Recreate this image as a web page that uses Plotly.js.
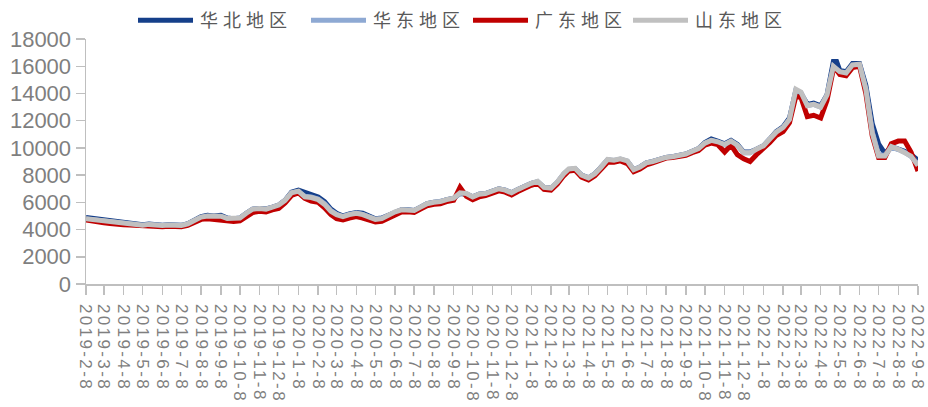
<!DOCTYPE html>
<html>
<head>
<meta charset="utf-8">
<script src="https://cdn.plot.ly/plotly-3.0.1.min.js"></script>
<style>
html,body{margin:0;padding:0;background:#fff;}
#chart{width:928px;height:407px;}
#chart .xtick text{letter-spacing:2.4px;}
#chart .legendtext{letter-spacing:5px;}
</style>
</head>
<body>
<div id="chart"></div>
<script>
// Sample dates (roughly every 10 days)
const dates = [
"2019-2-8","2019-2-18","2019-2-28","2019-3-8","2019-3-18","2019-3-28","2019-4-8","2019-4-18","2019-4-28",
"2019-5-8","2019-5-18","2019-5-28","2019-6-8","2019-6-18","2019-6-28","2019-7-8","2019-7-18","2019-7-28",
"2019-8-8","2019-8-18","2019-8-28","2019-9-8","2019-9-18","2019-9-28","2019-10-8","2019-10-18","2019-10-28",
"2019-11-8","2019-11-18","2019-11-28","2019-12-8","2019-12-18","2019-12-28",
"2020-1-8","2020-1-18","2020-1-28","2020-2-8","2020-2-18","2020-2-28","2020-3-8","2020-3-18","2020-3-28",
"2020-4-8","2020-4-18","2020-4-28","2020-5-8","2020-5-18","2020-5-28","2020-6-8","2020-6-18","2020-6-28",
"2020-7-8","2020-7-18","2020-7-28","2020-8-8","2020-8-18","2020-8-28","2020-9-8","2020-9-18","2020-9-28",
"2020-10-8","2020-10-18","2020-10-28","2020-11-8","2020-11-18","2020-11-28","2020-12-8","2020-12-18","2020-12-28",
"2021-1-8","2021-1-18","2021-1-28","2021-2-8","2021-2-18","2021-2-28","2021-3-8","2021-3-18","2021-3-28",
"2021-4-8","2021-4-18","2021-4-28","2021-5-8","2021-5-18","2021-5-28","2021-6-8","2021-6-18","2021-6-28",
"2021-7-8","2021-7-18","2021-7-28","2021-8-8","2021-8-18","2021-8-28","2021-9-8","2021-9-18","2021-9-28",
"2021-10-8","2021-10-18","2021-10-28","2021-11-8","2021-11-18","2021-11-28","2021-12-8","2021-12-18","2021-12-28",
"2022-1-8","2022-1-18","2022-1-28","2022-2-8","2022-2-18","2022-2-28","2022-3-8","2022-3-18","2022-3-28",
"2022-4-8","2022-4-18","2022-4-28","2022-5-3","2022-5-8","2022-5-18","2022-5-28","2022-6-8","2022-6-18","2022-6-28",
"2022-7-8","2022-7-18","2022-7-28","2022-8-8","2022-8-18","2022-8-28","2022-9-8"
];

// 华北地区
const huabei = [
4880,4820,4750, 4680,4600,4520, 4480,4420,4380,
4350,4400,4350, 4320,4350,4300, 4310,4430,4660,
4950,5050,5000, 5050,4850,4800, 4850,5200,5500,
5550,5520,5650, 5800,6150,6750,
6900,6750,6550, 6400,6050,5500, 5200,5000,5150,
5250,5200,5000, 4800,4850,5050, 5300,5450,5450,
5400,5650,5900, 6000,6050,6200, 6300,6650,6600,
6400,6600,6650, 6800,7000,6900, 6700,6950,7200,
7400,7500,7100, 7050,7450,8050, 8400,8450,8000,
7800,8100,8600, 9100,9050,9150, 9000,8400,8600,
8900,9000,9150, 9300,9350,9450, 9550,9750,9950,
10400,10650,10500, 10300,10550,10250, 9700,9700,9900,
10150,10650,11200, 11550,12200,14200, 14000,13200,13300,
13100,13900,16350, 16350, 15700,15600,16200, 16200,14600,11800,
10300,9600,10100, 9950,9750,9500, 9100
];

// 华东地区
const huadong = [
4780,4730,4660, 4600,4540,4470, 4440,4390,4340,
4310,4370,4320, 4290,4320,4270, 4290,4400,4630,
4900,4980,4930, 4960,4800,4780, 4830,5180,5480,
5530,5480,5630, 5780,6130,6680,
6800,6450,6400, 6250,5900,5400, 5120,4960,5110,
5210,5120,4960, 4760,4810,5040, 5290,5440,5440,
5390,5640,5880, 5980,6040,6180, 6280,6680,6630,
6390,6590,6640, 6790,6980,6890, 6690,6940,7180,
7380,7530,7090, 7040,7480,8080, 8430,8480,7990,
7790,8090,8580, 9130,9080,9180, 9030,8390,8590,
8890,8990,9140, 9290,9340,9440, 9540,9740,9940,
10330,10530,10430, 10230,10480,10190, 9640,9640,9890,
10140,10640,11130, 11480,12080,14250, 14050,13100,13200,
13000,13850,15950, 15750, 15550,15450,16050, 16100,14350,11200,
9500,9450,10050, 9880,9680,9380, 8800
];

// 广东地区
const guangdong = [
4700,4600,4550, 4500,4450,4380, 4350,4330,4300,
4250,4300,4250, 4200,4250,4200, 4200,4300,4500,
4750,4800,4750, 4750,4650,4600, 4650,4950,5250,
5350,5300,5450, 5550,5950,6500,
6700,6300,6100, 6000,5600,5100, 4800,4700,4850,
4950,4850,4700, 4550,4600,4850, 5150,5300,5300,
5250,5500,5750, 5850,5900,6050, 6150,7100,6450,
6200,6400,6500, 6650,6850,6750, 6550,6800,7050,
7250,7400,6950, 6900,7350,7950, 8300,8350,7850,
7650,7950,8450, 8950,8950,9050, 8850,8250,8450,
8750,8900,9100, 9250,9300,9350, 9450,9650,9800,
10200,10350,10250, 9700,10200,9500, 9200,9000,9500,
9950,10400,10900, 11200,11850,13800, 13700,12300,12400,
12200,13500,15800, 15700, 15400,15300,15900, 16000,14000,10900,
9300,9300,10300, 10500,10500,9700, 8300
];

// 山东地区
const shandong = [
4800,4750,4680, 4620,4560,4480, 4450,4400,4350,
4320,4380,4330, 4300,4330,4280, 4300,4420,4650,
4920,5000,4950, 4980,4820,4800, 4850,5200,5500,
5550,5500,5650, 5800,6150,6700,
6820,6400,6350, 6200,5850,5350, 5100,4950,5100,
5200,5100,4950, 4750,4800,5050, 5300,5450,5450,
5400,5650,5900, 6000,6050,6200, 6300,6700,6650,
6400,6600,6650, 6800,7000,6900, 6700,6950,7200,
7400,7550,7100, 7050,7500,8100, 8450,8500,8000,
7800,8100,8600, 9150,9100,9200, 9050,8400,8600,
8900,9000,9150, 9300,9350,9450, 9550,9750,9950,
10350,10550,10450, 10250,10500,10200, 9650,9650,9900,
10150,10650,11150, 11500,12100,14300, 14100,13100,13200,
13000,13900,16000, 15800, 15600,15500,16100, 16150,14300,11100,
9400,9400,10100, 9900,9700,9400, 8700
];

const tickLabels = [
"2019-2-8","2019-3-8","2019-4-8","2019-5-8","2019-6-8","2019-7-8","2019-8-8","2019-9-8","2019-10-8","2019-11-8","2019-12-8",
"2020-1-8","2020-2-8","2020-3-8","2020-4-8","2020-5-8","2020-6-8","2020-7-8","2020-8-8","2020-9-8","2020-10-8","2020-11-8","2020-12-8",
"2021-1-8","2021-2-8","2021-3-8","2021-4-8","2021-5-8","2021-6-8","2021-7-8","2021-8-8","2021-9-8","2021-10-8","2021-11-8","2021-12-8",
"2022-1-8","2022-2-8","2022-3-8","2022-4-8","2022-5-8","2022-6-8","2022-7-8","2022-8-8","2022-9-8"
];

const seriesNames = ["华北地区","华东地区","广东地区","山东地区"];
const seriesData = [huabei, huadong, guangdong, shandong];
const seriesColors = ["#153F8A","#8EA9D3","#C00000","#C0C0C0"];

const traces = seriesData.map((d, i) => ({
  type: "scatter",
  mode: "lines",
  name: seriesNames[i],
  x: dates,
  y: d,
  line: {color: seriesColors[i], width: 5}
}));

const axisGray = "#BFBFBF";
const textGray = "#7F7F7F";

const layout = {
  width: 928,
  height: 407,
  margin: {l: 86, r: 10, t: 25, b: 123},
  paper_bgcolor: "#fff",
  plot_bgcolor: "#fff",
  showlegend: true,
  legend: {
    orientation: "h",
    xref: "container", x: 0.1735, xanchor: "left",
    yref: "container", y: 0.995, yanchor: "top",
    font: {family: "Noto Sans CJK SC", size: 18, color: "#595959"},
    entrywidth: 120,
    traceorder: "normal",
    bgcolor: "rgba(0,0,0,0)"
  },
  xaxis: {
    type: "date",
    range: ["2019-2-8", "2022-9-8"],
    tickmode: "array",
    tickvals: tickLabels,
    ticktext: tickLabels,
    tickangle: 90,
    ticklabelstandoff: 6,
    ticklabeloverflow: "allow",
    ticks: "outside",
    ticklen: 9,
    tickcolor: axisGray,
    tickwidth: 1.5,
    showline: true,
    linecolor: axisGray,
    linewidth: 1.5,
    showgrid: false,
    zeroline: false,
    tickfont: {family: "Liberation Sans, Arial, sans-serif", size: 17, color: textGray}
  },
  yaxis: {
    range: [0, 18000],
    tick0: 0,
    dtick: 2000,
    tickformat: "d",
    ticks: "outside",
    ticklen: 9,
    tickcolor: axisGray,
    tickwidth: 1.5,
    showline: true,
    linecolor: axisGray,
    linewidth: 1.5,
    showgrid: false,
    zeroline: false,
    tickfont: {family: "Liberation Sans, Arial, sans-serif", size: 22, color: textGray}
  }
};

// legend entry origins (page px) as placed in the reference
const legendOrigins = [160, 333, 495, 655];

function parseTranslate(el) {
  const t = (el && el.getAttribute("transform")) || "";
  const m = t.match(/translate\(\s*([-\d.eE]+)[ ,]*([-\d.eE]*)\s*\)/);
  return m ? [parseFloat(m[1]) || 0, parseFloat(m[2]) || 0] : [0, 0];
}

Plotly.newPlot("chart", traces, layout, {displayModeBar: false, staticPlot: true}).then(function (gd) {
  const legend = gd.querySelector(".legend");
  if (!legend) return;
  const lt = parseTranslate(legend);
  const scroll = legend.querySelector(".scrollbox");
  if (scroll) {
    scroll.removeAttribute("clip-path");
    const st = parseTranslate(scroll);
    lt[0] += st[0];
  }
  // longer line samples, as in the reference
  legend.querySelectorAll(".legendlines path").forEach(function (p) {
    p.setAttribute("d", "M-22,0h55");
  });
  legend.querySelectorAll(".traces").forEach(function (g, i) {
    const tt = parseTranslate(g);
    if (i < legendOrigins.length) {
      g.setAttribute("transform", "translate(" + (legendOrigins[i] - lt[0]) + "," + tt[1] + ")");
    }
  });
});
</script>
</body>
</html>
